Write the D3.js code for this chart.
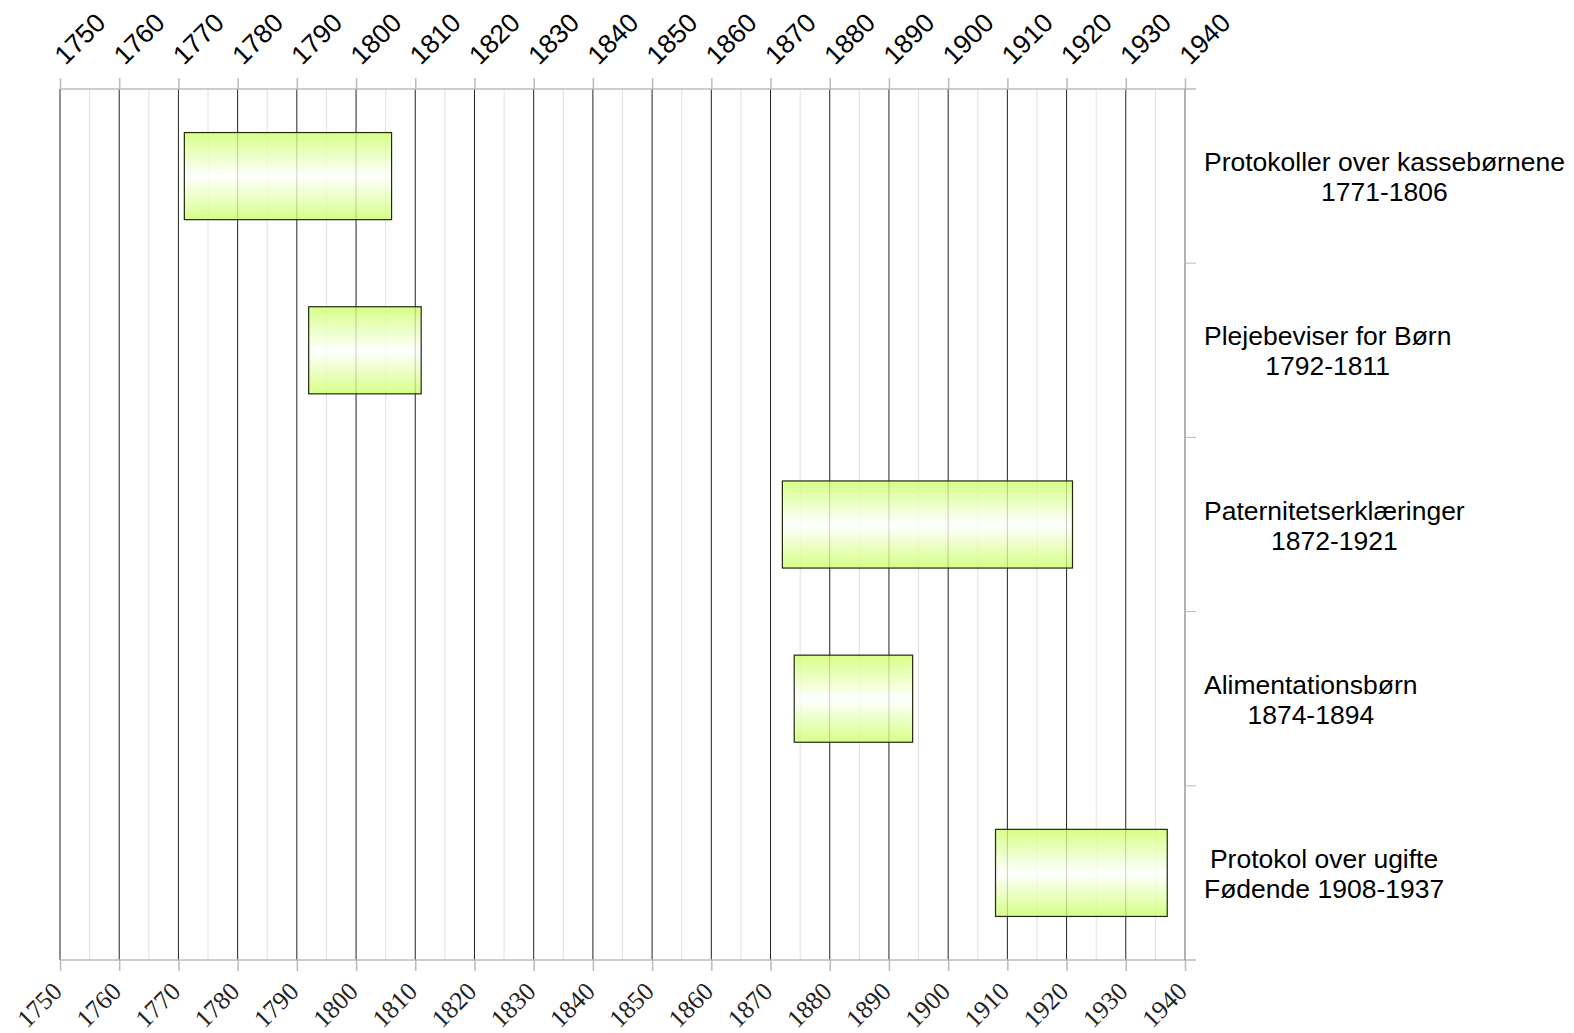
<!DOCTYPE html>
<html>
<head>
<meta charset="utf-8">
<script src="https://cdn.jsdelivr.net/npm/d3@7"></script>
<style>
  html, body { margin: 0; padding: 0; background: #fff; overflow: hidden; }
  svg { display: block; }
  .top-os text { font-family: "Liberation Sans", Arial, sans-serif; font-size: 26.5px; fill: #000; }
  .donja-os text { font-family: "Liberation Serif", "DejaVu Serif", serif; font-size: 25.5px; fill: #222; }
  .oznaka text { font-family: "Liberation Sans", Arial, sans-serif; font-size: 26.5px; fill: #000; }
</style>
</head>
<body>
<div id="okvir"></div>
<script>
// podaci
const kategorije = [
  ["Protokoller over kassebørnene", "1771-1806"],
  ["Plejebeviser for Børn", "1792-1811"],
  ["Paternitetserklæringer", "1872-1921"],
  ["Alimentationsbørn", "1874-1894"],
  ["Protokol over ugifte", "Fødende 1908-1937"]
]
const pocetak = [1771, 1792, 1872, 1874, 1908]
const kraj = [1806, 1811, 1921, 1894, 1937]
const godine = d3.range(1750, 1941, 10)
const poluGodine = d3.range(1755, 1940, 10)

const dataset = kategorije.map((k, i) => ({ id: i, oznaka: k, od: pocetak[i], do: kraj[i] }))

// dimenzije
const dimenzije = {
  sirina: 1574,
  visina: 1033,
  margine: { top: 89, right: 389, bottom: 73, left: 60 }
}
dimenzije.grDesno = dimenzije.sirina - dimenzije.margine.right
dimenzije.grDolje = dimenzije.visina - dimenzije.margine.bottom

const okvir = d3.select("#okvir")
  .append("svg")
    .attr("width", dimenzije.sirina)
    .attr("height", dimenzije.visina)

// skale
const xSkala = d3.scaleLinear()
  .domain([1750, 1940])
  .range([dimenzije.margine.left, dimenzije.grDesno])

const ySkala = d3.scaleBand()
  .domain(dataset.map(d => d.id))
  .range([dimenzije.margine.top, dimenzije.grDolje])
  .paddingInner(0.5)
  .paddingOuter(0.25)

const korak = ySkala.step()

// gradijent za stupce
const defs = okvir.append("defs")
const grad = defs.append("linearGradient")
    .attr("id", "zelena")
    .attr("x1", 0).attr("y1", 0).attr("x2", 0).attr("y2", 1)
grad.append("stop").attr("offset", "0%").attr("stop-color", "#ccff66")
grad.append("stop").attr("offset", "50%").attr("stop-color", "#ffffff")
grad.append("stop").attr("offset", "100%").attr("stop-color", "#ccff66")

// mreza
const mreza = okvir.append("g")
mreza.selectAll(".minor")
  .data(poluGodine)
  .enter().append("line")
    .attr("x1", d => xSkala(d)).attr("x2", d => xSkala(d))
    .attr("y1", dimenzije.margine.top).attr("y2", dimenzije.grDolje)
    .attr("stroke", "#e0e0e0")
    .attr("stroke-width", 1)
mreza.selectAll(".major")
  .data(godine.slice(0, -1))
  .enter().append("line")
    .attr("x1", d => xSkala(d)).attr("x2", d => xSkala(d))
    .attr("y1", dimenzije.margine.top).attr("y2", dimenzije.grDolje)
    .attr("stroke", "#222")
    .attr("stroke-width", 1)

// stupci
okvir.append("g").selectAll("rect")
  .data(dataset)
  .enter().append("rect")
    .attr("x", d => xSkala(d.od))
    .attr("y", d => ySkala(d.id))
    .attr("width", d => xSkala(d.do) - xSkala(d.od))
    .attr("height", ySkala.bandwidth())
    .attr("fill", "url(#zelena)")
    .attr("fill-opacity", 0.78)
    .attr("stroke", "#1f2a10")
    .attr("stroke-width", 1.2)

// osi
const osGore = d3.axisTop(xSkala).tickValues(godine).tickSize(11).tickFormat(d3.format("d"))
const osDolje = d3.axisBottom(xSkala).tickValues(godine).tickSize(11).tickFormat(d3.format("d"))

const topOs = okvir.append("g")
    .attr("class", "top-os")
    .attr("transform", `translate(0, ${dimenzije.margine.top})`)
  .call(osGore)
topOs.select(".domain").remove()
topOs.selectAll(".tick line").attr("stroke", "#bbb").attr("stroke-width", 1.5)
topOs.selectAll(".tick text")
    .attr("text-anchor", "start")
    .attr("x", 0).attr("y", 0).attr("dy", 0)
    .attr("transform", "translate(5, -23) rotate(-45)")
topOs.append("line")
    .attr("x1", dimenzije.margine.left).attr("x2", dimenzije.grDesno + 11)
    .attr("stroke", "#bbb").attr("stroke-width", 1.5)

const donjaOs = okvir.append("g")
    .attr("class", "donja-os")
    .attr("transform", `translate(0, ${dimenzije.grDolje})`)
  .call(osDolje)
donjaOs.select(".domain").remove()
donjaOs.selectAll(".tick line").attr("stroke", "#bbb").attr("stroke-width", 1.5)
donjaOs.selectAll(".tick text")
    .attr("text-anchor", "end")
    .attr("x", 0).attr("y", 0).attr("dy", 0)
    .attr("transform", "translate(3, 33) rotate(-45)")
donjaOs.append("line")
    .attr("x1", dimenzije.margine.left).attr("x2", dimenzije.grDesno + 11)
    .attr("stroke", "#bbb").attr("stroke-width", 1.5)

// desna os
const desno = okvir.append("g")
desno.append("line")
    .attr("x1", dimenzije.grDesno).attr("x2", dimenzije.grDesno)
    .attr("y1", dimenzije.margine.top).attr("y2", dimenzije.grDolje)
    .attr("stroke", "#999").attr("stroke-width", 1.5)
desno.selectAll(".granica")
  .data(dataset.slice(1))
  .enter().append("line")
    .attr("x1", dimenzije.grDesno).attr("x2", dimenzije.grDesno + 11)
    .attr("y1", d => ySkala(d.id) - (korak - ySkala.bandwidth()) / 2)
    .attr("y2", d => ySkala(d.id) - (korak - ySkala.bandwidth()) / 2)
    .attr("stroke", "#bbb").attr("stroke-width", 1)

// oznake
const oznake = okvir.append("g")
    .attr("class", "oznaka")
  .selectAll("g")
  .data(dataset)
  .enter().append("g")

oznake.each(function(d) {
  const g = d3.select(this)
  const sredina = ySkala(d.id) + ySkala.bandwidth() / 2
  const redovi = g.selectAll("text")
    .data(d.oznaka)
    .enter().append("text")
      .attr("y", (t, i) => sredina - 5 + i * 30)
      .attr("text-anchor", "middle")
      .text(t => t)
  let maxSirina = 0
  redovi.each(function() { maxSirina = Math.max(maxSirina, this.getComputedTextLength()) })
  redovi.attr("x", dimenzije.grDesno + 19 + maxSirina / 2)
})
</script>
</body>
</html>
